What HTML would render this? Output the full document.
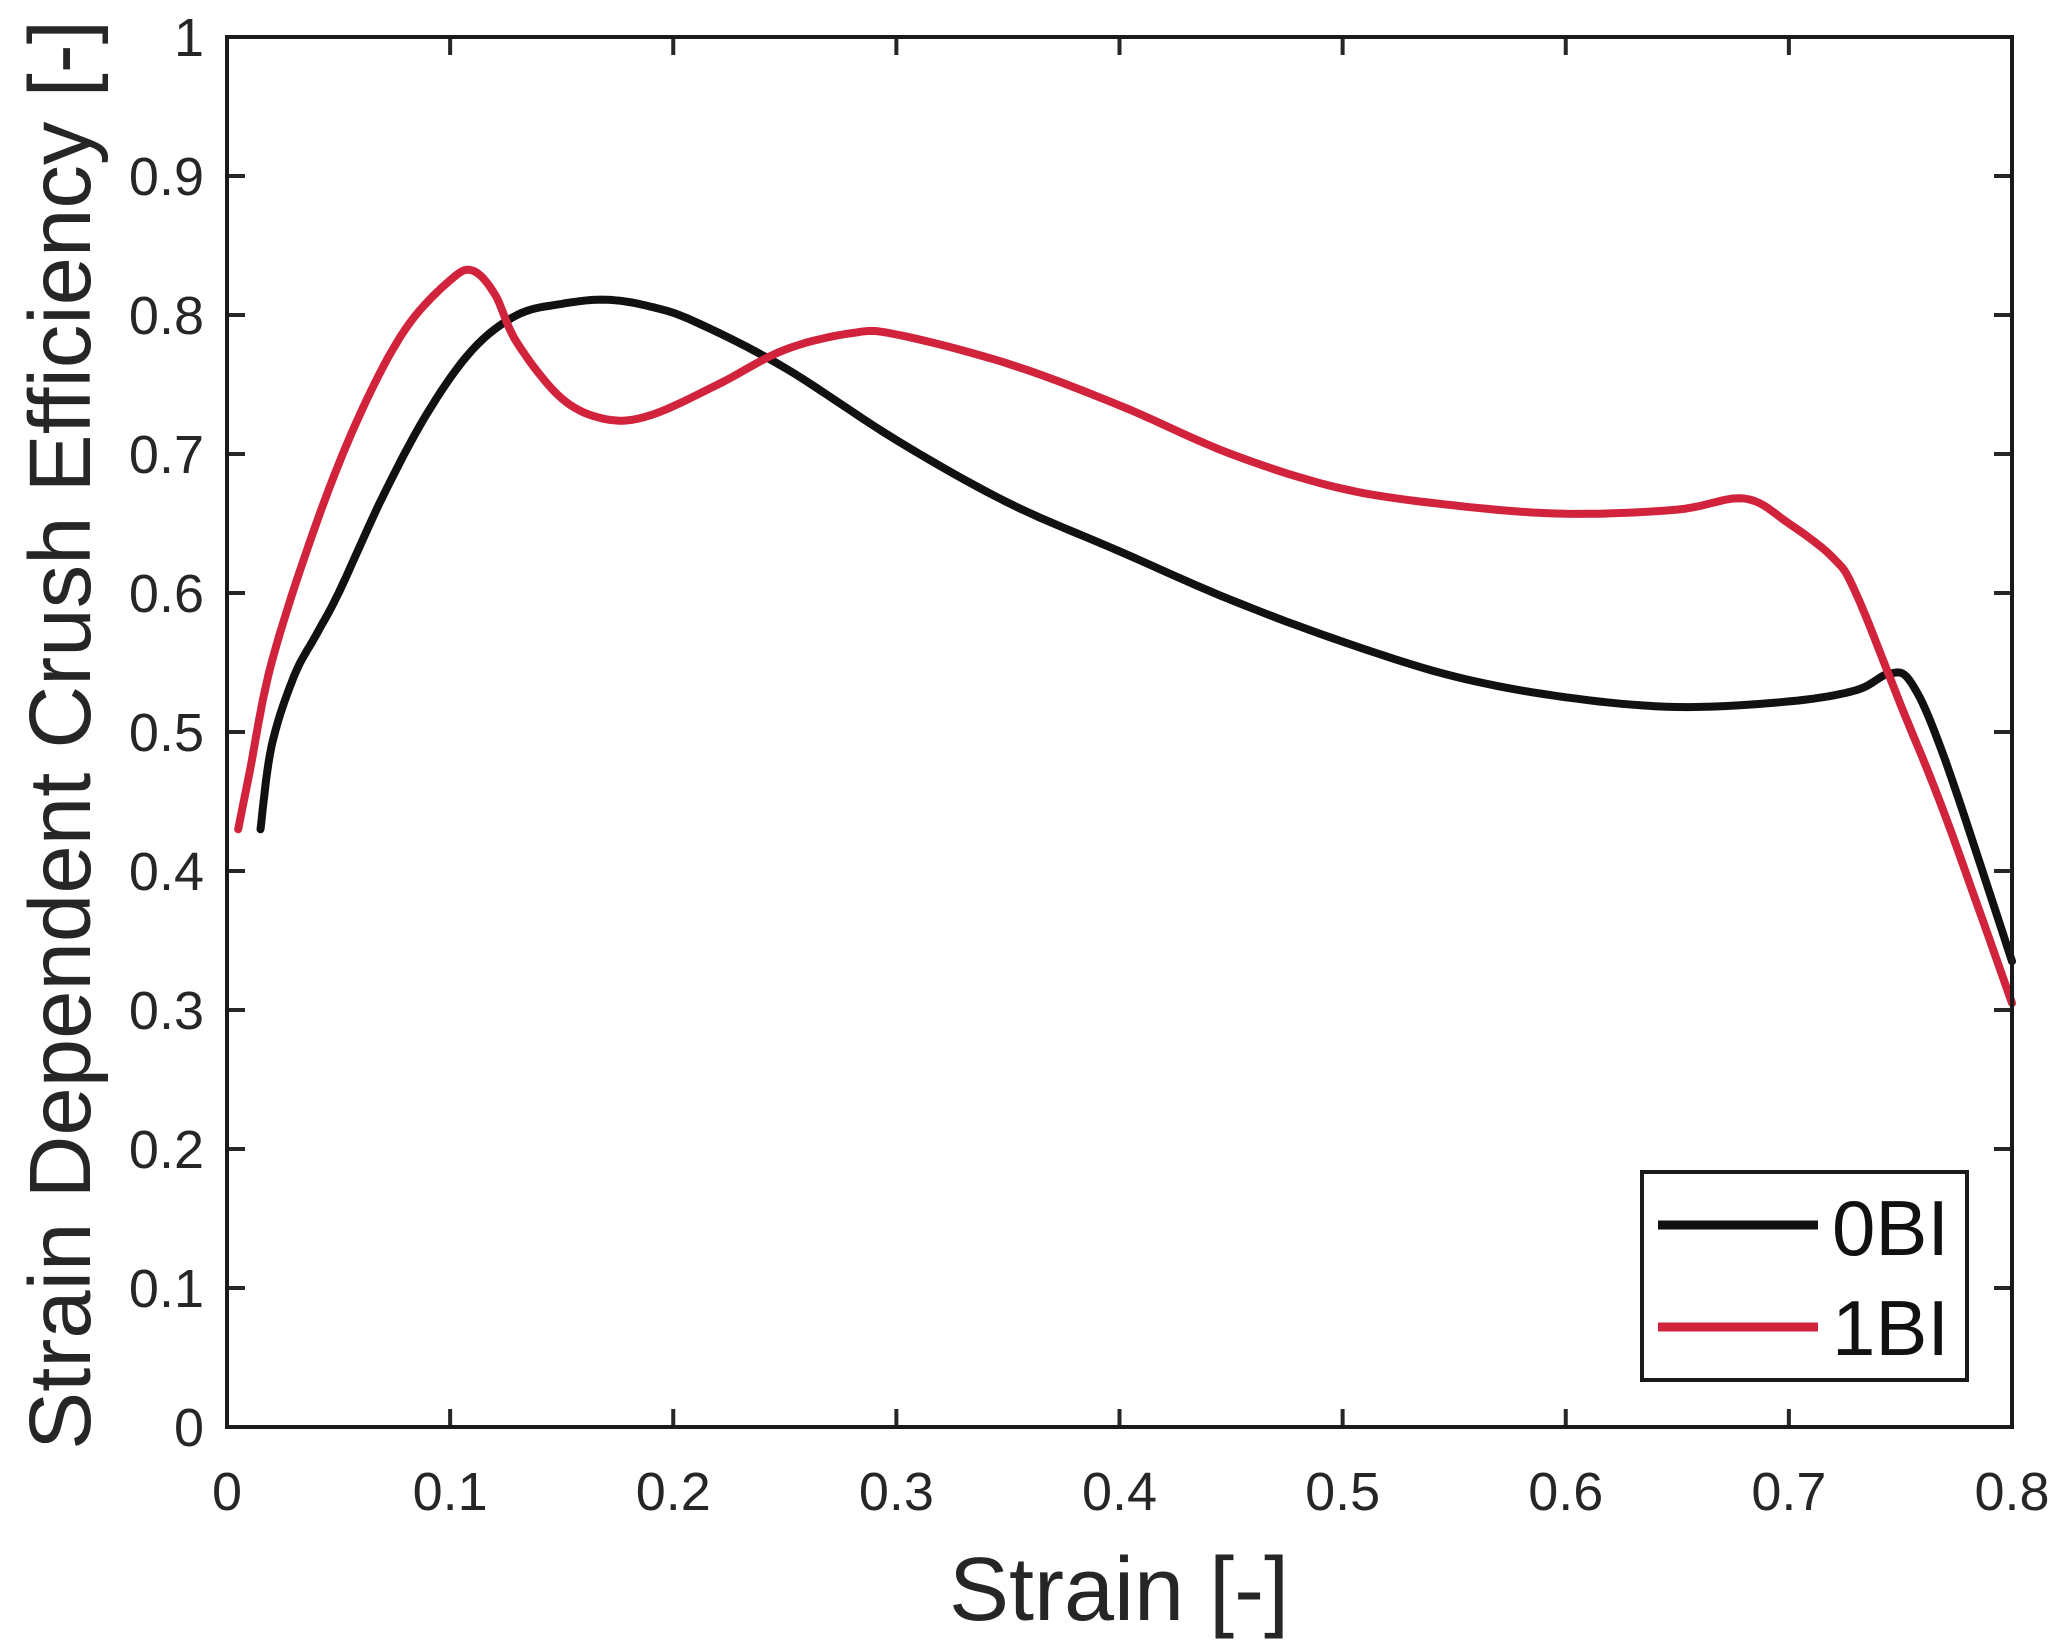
<!DOCTYPE html>
<html><head><meta charset="utf-8"><style>
html,body{margin:0;padding:0;background:#fff;}
svg{display:block;}
text{font-family:"Liberation Sans",Arial,sans-serif;}
</style></head><body>
<svg id="s" width="2063" height="1652" viewBox="0 0 2063 1652" xmlns="http://www.w3.org/2000/svg">
<rect width="2063" height="1652" fill="#fff"/>
<g id="ticks" stroke="#262626" stroke-width="4"></g>
<g id="labels" fill="#262626" font-size="54"></g>
<polyline id="blk" fill="none" stroke="#111" stroke-width="8" stroke-linejoin="round" stroke-linecap="round"/>
<polyline id="red" fill="none" stroke="#d2233c" stroke-width="8" stroke-linejoin="round" stroke-linecap="round"/>
<rect x="227" y="37" width="1785" height="1390" fill="none" stroke="#1a1a1a" stroke-width="4"/>
<rect x="1642" y="1172" width="325" height="208" fill="#fff" stroke="#1a1a1a" stroke-width="4"/>
<line x1="1658" y1="1225" x2="1818" y2="1225" stroke="#111" stroke-width="9"/>
<line x1="1658" y1="1327" x2="1818" y2="1327" stroke="#d2233c" stroke-width="9"/>
<text x="1832" y="1255" font-size="78" fill="#111">0BI</text>
<text x="1832" y="1355" font-size="78" fill="#111">1BI</text>
<text x="1119" y="1620" font-size="90" fill="#262626" text-anchor="middle">Strain [-]</text>
<text transform="translate(90,735) rotate(-90)" font-size="87" fill="#262626" text-anchor="middle">Strain Dependent Crush Efficiency [-]</text>
</svg>
<script>
var L=227,R=2012,T=37,B=1427;
function px(x){return L+x/0.8*(R-L);}
function py(y){return B-y*(B-T);}
var tk=document.getElementById('ticks'),lb=document.getElementById('labels'),ns='http://www.w3.org/2000/svg';
function el(p,n,a,t){var e=document.createElementNS(ns,n);for(var k in a)e.setAttribute(k,a[k]);if(t!==undefined)e.textContent=t;p.appendChild(e);}
for(var i=0;i<=8;i++){var x=px(i/10);
el(tk,'line',{x1:x,y1:B,x2:x,y2:B-18});el(tk,'line',{x1:x,y1:T,x2:x,y2:T+18});
el(lb,'text',{x:x,y:1510,'text-anchor':'middle'},i==0?'0':(i/10).toFixed(1));}
for(var i=0;i<=10;i++){var y=py(i/10);
el(tk,'line',{x1:L,y1:y,x2:L+18,y2:y});el(tk,'line',{x1:R,y1:y,x2:R-18,y2:y});
el(lb,'text',{x:204,y:y+19,'text-anchor':'end'},i==0?'0':i==10?'1':(i/10).toFixed(1));}
var b=[[0.015,0.43],[0.02,0.49],[0.03,0.54],[0.04,0.57],[0.05,0.6],[0.07,0.67],[0.09,0.73],[0.11,0.775],[0.13,0.8],[0.15,0.808],[0.17,0.811],[0.19,0.806],[0.21,0.795],[0.25,0.762],[0.3,0.71],[0.35,0.665],[0.4,0.63],[0.45,0.595],[0.5,0.565],[0.55,0.54],[0.6,0.525],[0.65,0.518],[0.7,0.522],[0.73,0.53],[0.745,0.542],[0.755,0.535],[0.77,0.48],[0.8,0.335]];
var r=[[0.005,0.43],[0.01,0.47],[0.02,0.55],[0.04,0.65],[0.06,0.73],[0.08,0.79],[0.1,0.825],[0.11,0.832],[0.12,0.815],[0.13,0.78],[0.15,0.74],[0.17,0.725],[0.19,0.728],[0.22,0.75],[0.25,0.775],[0.28,0.787],[0.3,0.786],[0.35,0.765],[0.4,0.735],[0.45,0.7],[0.5,0.675],[0.55,0.663],[0.6,0.657],[0.65,0.66],[0.68,0.668],[0.7,0.65],[0.72,0.625],[0.73,0.6],[0.75,0.52],[0.77,0.44],[0.8,0.305]];
function pts(a){var o=[];for(var i=0;i<a.length-1;i++){var p0=a[Math.max(0,i-1)],p1=a[i],p2=a[i+1],p3=a[Math.min(a.length-1,i+2)];
for(var t=0;t<1;t+=0.1){var t2=t*t,t3=t2*t;var f=function(k){return 0.5*((2*p1[k])+(-p0[k]+p2[k])*t+(2*p0[k]-5*p1[k]+4*p2[k]-p3[k])*t2+(-p0[k]+3*p1[k]-3*p2[k]+p3[k])*t3);};
o.push(px(f(0)).toFixed(1)+','+py(f(1)).toFixed(1));}}
var l=a[a.length-1];o.push(px(l[0])+','+py(l[1]));return o.join(' ');}
document.getElementById('blk').setAttribute('points',pts(b));
document.getElementById('red').setAttribute('points',pts(r));
</script>
</body></html>
